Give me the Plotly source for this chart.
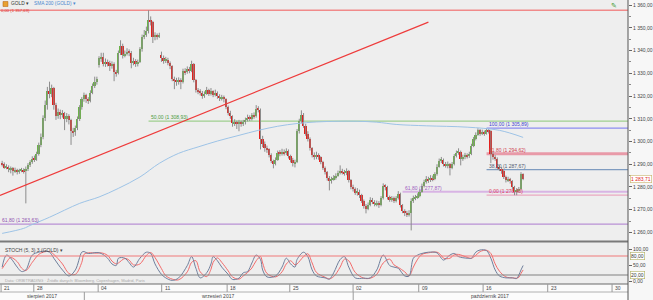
import plotly.graph_objects as go

# ---------------- DATA (GOLD, H4) ----------------
opens = [1290.5,1290.0,1288.5,1289.0,1287.8,1288.2,1287.0,1287.5,1286.8,1287.2,1287.6,1287.0,1287.9,1289.5,1291.0,1292.5,1292.0,1294.5,1298.5,1302.0,
1310.5,1316.0,1322.0,1321.0,1323.5,1316.0,1311.0,1313.0,1311.5,1312.5,1310.0,1311.0,1309.5,1304.5,1304.0,1306.0,1310.0,1315.0,1318.5,1320.5,
1318.5,1318.0,1321.5,1324.5,1326.0,1333.5,1336.5,1337.0,1334.0,1335.0,1334.5,1333.0,1334.0,1330.5,1330.0,1339.0,1342.0,1338.0,1338.5,1339.5,
1339.0,1334.5,1335.5,1334.0,1335.0,1340.5,1346.0,1347.0,1348.5,1353.5,1352.5,1346.0,1346.5,1346.0,1338.0,1336.5,1335.5,1336.0,1334.5,1333.0,
1327.5,1327.0,1326.0,1327.0,1326.0,1331.0,1330.5,1332.0,1331.0,1334.0,1327.0,1322.5,1322.0,1321.5,1320.0,1321.0,1322.5,1321.0,1322.0,1320.5,
1321.5,1320.0,1319.0,1319.5,1318.5,1315.0,1312.5,1311.0,1308.0,1308.5,1307.5,1308.5,1307.8,1308.5,1309.5,1310.5,1310.0,1311.5,1311.0,1314.5,
1314.0,1301.0,1299.0,1297.0,1296.5,1294.0,1291.5,1290.0,1292.0,1295.0,1294.5,1295.5,1294.8,1296.0,1293.5,1292.0,1290.5,1291.0,1304.5,1309.0,
1311.5,1307.0,1303.5,1301.0,1297.0,1294.0,1293.0,1294.0,1293.0,1291.0,1288.5,1286.5,1284.0,1282.5,1283.5,1284.0,1285.0,1286.0,1287.0,1286.5,
1286.0,1287.0,1283.0,1280.0,1279.0,1277.5,1278.0,1276.5,1274.0,1271.5,1270.5,1272.0,1274.5,1273.5,1272.5,1273.0,1272.0,1275.0,1280.5,1280.0,
1275.5,1274.5,1275.0,1274.0,1275.0,1277.0,1272.0,1269.5,1268.5,1268.0,1268.5,1274.0,1275.0,1275.5,1276.0,1278.0,1280.5,1282.0,1283.5,1283.0,
1284.0,1283.5,1285.5,1289.0,1291.5,1292.0,1290.0,1289.5,1290.0,1288.5,1290.0,1293.5,1295.0,1295.5,1292.5,1293.0,1294.0,1293.5,1294.5,1298.0,
1301.0,1303.0,1305.0,1303.5,1304.0,1303.5,1305.0,1304.5,1294.5,1293.0,1292.5,1288.5,1288.0,1287.0,1284.5,1283.0,1283.5,1282.5,1280.0,1278.0,
1278.5,1279.0,1285.5]
closes = [1290.0,1288.5,1289.0,1287.8,1288.2,1287.0,1287.5,1286.8,1287.2,1287.6,1287.0,1287.9,1289.5,1291.0,1292.5,1292.0,1294.5,1298.5,1302.0,1310.5,
1316.0,1322.0,1321.0,1323.5,1316.0,1311.0,1313.0,1311.5,1312.5,1310.0,1311.0,1309.5,1304.5,1304.0,1306.0,1310.0,1315.0,1318.5,1320.5,1318.5,
1318.0,1321.5,1324.5,1326.0,1327.5,1336.5,1337.0,1334.0,1335.0,1334.5,1333.0,1334.0,1330.5,1330.0,1339.0,1342.0,1338.0,1338.5,1339.5,1339.0,
1334.5,1335.5,1334.0,1335.0,1340.5,1346.0,1347.0,1348.5,1353.5,1352.5,1346.0,1346.5,1346.0,1346.8,1336.5,1335.5,1336.0,1334.5,1333.0,1327.5,
1327.0,1326.0,1327.0,1326.0,1331.0,1330.5,1332.0,1331.0,1334.0,1327.0,1322.5,1322.0,1321.5,1320.0,1321.0,1322.5,1321.0,1322.0,1320.5,1321.5,
1320.0,1319.0,1319.5,1318.5,1315.0,1312.5,1311.0,1308.0,1308.5,1307.5,1308.5,1307.8,1308.5,1309.5,1310.5,1310.0,1311.5,1311.0,1314.5,1314.0,
1301.0,1299.0,1297.0,1296.5,1294.0,1291.5,1290.0,1292.0,1295.0,1294.5,1295.5,1294.8,1296.0,1293.5,1292.0,1290.5,1291.0,1304.5,1309.0,1311.5,
1307.0,1303.5,1301.0,1297.0,1294.0,1293.0,1294.0,1293.0,1291.0,1288.5,1286.5,1284.0,1282.5,1283.5,1284.0,1285.0,1286.0,1287.0,1286.5,1286.0,
1287.0,1283.0,1280.0,1279.0,1277.5,1278.0,1276.5,1274.0,1271.5,1270.5,1272.0,1274.5,1273.5,1272.5,1273.0,1272.0,1275.0,1280.5,1280.0,1275.5,
1274.5,1275.0,1274.0,1275.0,1277.0,1272.0,1269.5,1268.5,1268.0,1268.5,1274.0,1275.0,1275.5,1276.0,1278.0,1280.5,1282.0,1283.5,1283.0,1284.0,
1283.5,1285.5,1289.0,1291.5,1292.0,1290.0,1289.5,1290.0,1288.5,1290.0,1293.5,1295.0,1295.5,1292.5,1293.0,1294.0,1293.5,1294.5,1298.0,1301.0,
1303.0,1305.0,1303.5,1304.0,1303.5,1305.0,1304.5,1294.5,1293.0,1292.5,1288.5,1288.0,1287.0,1284.5,1283.0,1283.5,1282.5,1280.0,1278.0,1278.5,
1279.0,1285.5,1283.71]
highs = [1291.5,1290.8,1290.0,1289.5,1289.0,1288.8,1288.5,1288.0,1288.0,1288.4,1288.2,1289.0,1290.5,1291.8,1293.5,1293.8,1295.5,1299.5,1303.5,1311.5,
1318.0,1324.0,1326.3,1325.0,1324.0,1317.0,1314.5,1314.0,1313.8,1313.0,1312.5,1312.0,1310.0,1306.0,1307.0,1311.0,1316.0,1319.5,1321.5,1321.0,
1319.5,1322.5,1325.5,1328.5,1328.5,1337.5,1339.0,1339.0,1336.5,1336.0,1335.5,1335.2,1334.8,1331.5,1340.0,1344.5,1343.0,1340.0,1341.0,1340.5,
1339.8,1336.8,1336.2,1336.0,1341.5,1347.0,1349.0,1350.5,1357.7,1355.0,1353.0,1348.0,1347.5,1347.8,1339.5,1337.8,1337.2,1336.8,1335.2,1333.5,
1328.5,1328.0,1328.2,1327.8,1332.0,1332.2,1333.0,1332.8,1335.5,1334.5,1327.5,1323.5,1323.0,1322.2,1322.0,1324.0,1323.2,1323.5,1322.5,1322.8,
1322.0,1320.8,1320.5,1320.2,1319.0,1315.8,1313.5,1311.5,1309.8,1309.2,1309.5,1309.2,1309.5,1310.5,1311.8,1311.5,1312.5,1312.8,1316.0,1315.5,
1314.5,1302.5,1300.0,1298.2,1297.0,1294.8,1292.0,1293.0,1296.0,1296.2,1296.8,1296.5,1297.0,1296.5,1294.2,1292.8,1292.0,1305.5,1310.0,1313.7,
1312.5,1307.8,1304.5,1301.8,1297.5,1295.2,1295.5,1294.8,1293.5,1291.5,1289.0,1287.0,1284.8,1284.5,1285.2,1286.0,1287.2,1289.5,1288.0,1287.5,
1288.2,1287.5,1283.5,1281.0,1279.8,1279.5,1278.8,1277.0,1274.5,1272.5,1273.2,1275.5,1275.2,1274.2,1274.0,1273.8,1276.0,1281.6,1281.2,1280.5,
1276.2,1276.0,1275.8,1276.0,1278.2,1277.5,1272.5,1270.2,1269.5,1269.8,1275.0,1276.2,1276.5,1277.2,1279.0,1281.5,1283.2,1284.8,1284.5,1285.2,
1285.0,1286.5,1290.0,1292.5,1293.2,1292.5,1291.0,1291.2,1290.5,1291.0,1294.5,1296.0,1297.0,1296.0,1294.2,1295.0,1294.8,1295.5,1299.0,1302.0,
1304.0,1305.8,1305.5,1305.2,1304.8,1305.9,1305.5,1305.0,1295.5,1294.0,1293.0,1289.5,1288.8,1287.5,1285.0,1284.5,1284.0,1283.0,1280.5,1279.5,
1280.0,1286.5,1286.0]
lows = [1289.0,1288.0,1287.8,1286.5,1286.0,1285.0,1286.2,1285.5,1285.8,1286.5,1285.9,1272.8,1287.0,1288.8,1290.2,1291.0,1291.5,1293.8,1297.5,1301.0,
1309.0,1314.0,1319.0,1319.5,1314.0,1309.5,1310.0,1309.8,1310.5,1305.0,1308.5,1307.5,1298.5,1302.0,1302.5,1305.0,1309.0,1314.0,1317.5,1317.0,
1316.5,1317.2,1320.8,1323.5,1325.0,1332.5,1335.0,1333.0,1332.8,1333.0,1331.0,1332.0,1326.5,1328.5,1329.5,1338.0,1336.5,1337.0,1337.8,1337.5,
1332.2,1333.5,1332.8,1333.0,1334.5,1339.5,1345.0,1346.0,1347.5,1351.0,1343.3,1344.5,1344.8,1345.5,1335.0,1334.2,1334.5,1333.5,1331.8,1326.5,
1323.0,1324.5,1325.0,1323.0,1325.5,1329.2,1329.8,1330.0,1330.5,1326.0,1321.5,1320.8,1320.2,1318.8,1319.2,1320.5,1320.0,1320.2,1319.5,1319.8,
1318.8,1317.8,1318.0,1317.2,1314.2,1311.5,1310.0,1306.5,1306.8,1305.5,1304.5,1306.5,1306.8,1307.5,1308.8,1309.0,1309.2,1310.0,1310.5,1312.8,
1296.5,1297.5,1295.5,1295.0,1293.0,1290.5,1288.2,1289.5,1291.5,1293.5,1293.8,1293.8,1294.0,1292.5,1290.8,1289.0,1288.6,1290.5,1303.5,1308.0,
1306.0,1302.5,1300.0,1296.0,1293.0,1292.0,1292.2,1292.0,1290.0,1287.5,1285.5,1282.8,1278.5,1281.5,1282.8,1283.2,1284.5,1285.5,1285.5,1285.0,
1285.2,1282.0,1279.0,1278.0,1276.5,1276.2,1275.2,1273.0,1270.5,1268.4,1269.8,1271.5,1272.5,1271.5,1271.5,1270.8,1271.5,1274.5,1278.5,1274.5,
1273.5,1273.5,1273.0,1273.2,1274.5,1271.0,1268.5,1267.2,1266.8,1267.0,1260.9,1273.0,1274.2,1274.8,1275.5,1277.5,1279.8,1281.5,1281.8,1282.2,
1282.5,1283.0,1285.0,1288.5,1290.5,1289.0,1288.5,1288.2,1285.1,1287.8,1289.5,1293.0,1294.2,1289.5,1291.5,1292.2,1292.5,1292.8,1294.0,1297.5,
1300.5,1302.5,1302.5,1302.8,1302.5,1303.0,1303.5,1290.5,1292.0,1291.5,1287.5,1287.0,1285.8,1283.5,1282.0,1282.2,1281.5,1279.0,1276.4,1276.4,
1277.5,1278.5,1283.0]

# SMA 200 (read at selected candles)
sma_idx = [0, 10, 13, 22, 36, 45, 54, 64, 73, 82, 91, 100, 110, 119, 128, 137, 146, 156, 165, 174, 183, 197, 216, 231, 242]
sma_val = [1259.6, 1261.8, 1263.1, 1266.7, 1272.8, 1275.6, 1279.4, 1284.4, 1290.4, 1294.8, 1297.6, 1300.2, 1302.7, 1304.9,
           1306.7, 1307.9, 1308.6, 1308.9, 1308.9, 1308.5, 1307.5, 1306.9, 1306.3, 1304.9, 1301.8]

# Stochastic (5,3,3)
st_idx = [0,2,4,7,9,11,14,17,19,22,24,28,31,34,37,38,40,44,46,49,51,53,54,57,59,61,64,67,69,71,74,76,79,82,86,88,90,92,95,97,
          98,100,102,105,107,110,112,114,116,118,120,121,123,127,130,132,134,136,137,140,142,144,146,150,152,154,157,159,161,164,
          168,171,174,177,180,182,184,187,189,191,193,195,198,202,204,205,208,210,212,216,218,220,222,225,227,229,231,234,237,239,240,241,242]
st_k = [45,83,73,45,31,36,83,92,95,92,73,36,17,36,92,94,88,91,88,73,55,50,73,73,59,45,73,92,88,55,22,11,3,11,50,78,41,11,27,55,
        78,65,45,22,6,10,27,31,58,83,69,36,14,17,45,73,55,45,69,92,78,36,17,11,7,27,69,78,45,11,
        10,11,36,83,50,45,41,17,17,73,83,88,92,90,73,67,83,88,78,73,73,92,99,97,73,36,17,11,11,9,20,36,50]
st_d = [40,60,75,62,42,34,60,85,92,94,85,55,25,22,60,85,90,89,90,82,64,55,58,72,67,52,55,82,91,75,40,18,7,5,30,60,65,30,15,38,
        60,74,60,33,14,7,17,28,42,65,78,58,25,14,30,55,65,52,55,78,87,58,28,13,8,15,45,70,65,28,
        10,10,22,58,70,52,44,30,17,45,70,85,90,92,82,73,73,84,85,76,73,82,94,98,88,55,32,14,11,10,13,25,36]

# Drawing-tool data
trend_idx = [-1, 198]
trend_price = [1276.3, 1352.5]
fib_price = [1357.69, 1308.93, 1305.89, 1294.62, 1287.67, 1276.40, 1277.87, 1263.63]
fib_start = [-1, 68, 225, 225, 225, 225, 186, -1]
fib_label = ["0,00 (1 357,69)", "50,00 (1 308,93)", "100,00 (1 305,89)", "61,80 (1 294,62)",
             "38,20 (1 287,67)", "0,00 (1 276,40)", "61,80 (1 277,87)", "61,80 (1 263,63)"]
fib_color = ["#f08a8a", "#9fcf8f", "#8c8cf0", "#e89aa8", "#7f9cc0", "#eaa8c0", "#d8b4e4", "#b890d4"]
fib_text = ["#e03030", "#4a9a3a", "#4040d0", "#d04050", "#505a70", "#e04060", "#a060c0", "#9050b0"]
fib_width = [1.5, 1.2, 1.2, 3, 1.2, 1.2, 2, 1.2]

price_ticks = [1260, 1270, 1280, 1290, 1300, 1310, 1320, 1330, 1340, 1350, 1360]
date_ticks = ["21", "28", "04", "11", "18", "25", "02", "09", "16", "23", "30"]
date_tick_idx = [-0.5, 14.7, 44.6, 74.1, 104.5, 133.6, 163.0, 193.5, 223.4, 253.4, 283.3]
months = ["sierpień 2017", "wrzesień 2017", "październik 2017"]
last_price = 1283.71

# ---------------- FIGURE ----------------
W, H = 653, 300
PLOT_W = 633
XMIN, XMAX = -1, PLOT_W / 2.17 - 1
GREEN, RED = "#6cb24a", "#e3201c"

def px_x(px):
    return px / PLOT_W

def px_y(py):
    return 1 - py / H

def fmt(v):
    s = f"{v:,.2f}"
    return s.replace(",", " ").replace(".", ",")

N = len(closes)
idx = list(range(N))
fig = go.Figure()

# wicks
wx, wy = [], []
for i in range(N):
    wx += [i, i, None]
    wy += [lows[i], highs[i], None]
fig.add_trace(go.Scatter(x=wx, y=wy, mode="lines", line=dict(color="#8c8c8c", width=1),
                         hoverinfo="skip", showlegend=False, xaxis="x", yaxis="y"))
# bodies
base = [min(o, c) for o, c in zip(opens, closes)]
hgt = [max(abs(c - o), 0.4) for o, c in zip(opens, closes)]
cols = [GREEN if c >= o else RED for o, c in zip(opens, closes)]
fig.add_trace(go.Bar(x=idx, y=hgt, base=base, width=0.82, marker=dict(color=cols, line=dict(width=0)),
                     showlegend=False, xaxis="x", yaxis="y", hoverinfo="skip"))
# SMA
fig.add_trace(go.Scatter(x=sma_idx, y=sma_val, mode="lines", line=dict(color="#9dc3e6", width=1, shape="spline"),
                         showlegend=False, xaxis="x", yaxis="y"))
# trend line
fig.add_trace(go.Scatter(x=trend_idx, y=trend_price, mode="lines", line=dict(color="#ee3b3b", width=1.2),
                         showlegend=False, xaxis="x", yaxis="y"))
# stochastic
fig.add_trace(go.Scatter(x=st_idx, y=st_d, mode="lines", line=dict(color="#f36b6b", width=1, shape="spline"),
                         showlegend=False, xaxis="x2", yaxis="y2"))
fig.add_trace(go.Scatter(x=st_idx, y=st_k, mode="lines", line=dict(color="#6f7f9c", width=1, shape="spline"),
                         showlegend=False, xaxis="x2", yaxis="y2"))

shapes = []
annos = []
# fib lines
for p, s, c, w in zip(fib_price, fib_start, fib_color, fib_width):
    shapes.append(dict(type="line", xref="x", yref="y", x0=s, x1=XMAX, y0=p, y1=p,
                       line=dict(color=c, width=w), layer="below"))
for k, (p, s, t, tc) in enumerate(zip(fib_price, fib_start, fib_label, fib_text)):
    if k == 0:
        annos.append(dict(x=px_x(0.5), y=px_y(6.6), xref="paper", yref="paper", text=t, showarrow=False,
                          xanchor="left", yanchor="top", borderpad=0, font=dict(size=4.2, color=tc)))
    else:
        annos.append(dict(x=max(s, XMIN), y=p, xref="x", yref="y", text=t, showarrow=False,
                          xanchor="left", yanchor="bottom", font=dict(size=5, color=tc), yshift=-1))
# stoch reference lines
shapes.append(dict(type="line", xref="x2", yref="y2", x0=XMIN, x1=XMAX, y0=80, y1=80, line=dict(color="#f07878", width=1)))
shapes.append(dict(type="line", xref="x2", yref="y2", x0=XMIN, x1=XMAX, y0=20, y1=20, line=dict(color="#808080", width=1)))

# panel separators & bottom rows
shapes.append(dict(type="rect", xref="paper", yref="paper", x0=0, x1=1, y0=0, y1=px_y(284),
                   fillcolor="#fbfbfb", line=dict(width=0), layer="below"))
for py, c, w in [(241.5, "#7a7a7a", 2), (284, "#6a6a6a", 1), (292, "#b0b0b0", 1)]:
    shapes.append(dict(type="line", xref="paper", yref="paper", x0=0, x1=1, y0=px_y(py), y1=px_y(py),
                       line=dict(color=c, width=w)))
shapes.append(dict(type="line", xref="paper", yref="paper", x0=1, x1=1, y0=0, y1=1,
                   line=dict(color="#555555", width=1)))
# date ticks
for t, xi in zip(date_ticks, date_tick_idx):
    shapes.append(dict(type="line", xref="x2", yref="paper", x0=xi, x1=xi, y0=px_y(292), y1=px_y(284),
                       line=dict(color="#9a9a9a", width=1)))
    annos.append(dict(x=xi, y=px_y(288), xref="x2", yref="paper", text=t, showarrow=False,
                      xanchor="left", yanchor="middle", xshift=1, font=dict(size=5, color="#444")))
# month labels + dividers
for px in [85, 356]:
    shapes.append(dict(type="line", xref="paper", yref="paper", x0=px_x(px), x1=px_x(px), y0=0, y1=px_y(292),
                       line=dict(color="#9a9a9a", width=1)))
for m, px in zip(months, [42, 220, 494]):
    annos.append(dict(x=px_x(px), y=px_y(296), xref="paper", yref="paper", text=m, showarrow=False,
                      xanchor="center", yanchor="middle", font=dict(size=5, color="#444")))

# header
shapes.append(dict(type="rect", xref="paper", yref="paper", x0=px_x(3), x1=px_x(8), y0=px_y(6.5), y1=px_y(1.5),
                   fillcolor="#e8a030", line=dict(color="#b06010", width=0.5)))
annos.append(dict(x=px_x(10), y=px_y(3.3), xref="paper", yref="paper", text="GOLD ▾", showarrow=False,
                  xanchor="left", yanchor="middle", borderpad=0, font=dict(size=4.8, color="#333")))
annos.append(dict(x=px_x(33), y=px_y(3.3), xref="paper", yref="paper", text="SMA 200 (GOLD) ▾", showarrow=False,
                  xanchor="left", yanchor="middle", borderpad=0, font=dict(size=4.8, color="#4a8ad0")))
annos.append(dict(x=px_x(619), y=px_y(5), xref="paper", yref="paper", text="✎", showarrow=False,
                  xanchor="center", yanchor="middle", font=dict(size=7, color="#3a9a2a")))
annos.append(dict(x=px_x(3), y=px_y(250), xref="paper", yref="paper", text="STOCH (5, 3) 3 (GOLD) ▾", showarrow=False,
                  xanchor="left", yanchor="middle", font=dict(size=5, color="#444")))
annos.append(dict(x=px_x(3), y=px_y(280), xref="paper", yref="paper",
                  text="Data: ORBITRADING · Źródło danych: Bloomberg, Copenhagen, Madrid, Paris",
                  showarrow=False, xanchor="left", yanchor="middle", font=dict(size=4, color="#a8a8a8")))
# right-axis boxed labels
annos.append(dict(x=1, y=last_price, xref="paper", yref="y", text=fmt(last_price), showarrow=False,
                  xanchor="left", yanchor="middle", xshift=2, font=dict(size=5, color="#e02020"),
                  bgcolor="#ffffff", bordercolor="#c9b36a", borderwidth=0.6, borderpad=0.5))
for v in [80, 20]:
    annos.append(dict(x=1, y=v, xref="paper", yref="y2", text=f"{v},00", showarrow=False,
                      xanchor="left", yanchor="middle", xshift=2, font=dict(size=5, color="#333"),
                      bgcolor="#ffffff", bordercolor="#b0b060", borderwidth=0.6, borderpad=0.5))

fig.update_layout(
    width=W, height=H, margin=dict(l=0, r=20, t=0, b=0),
    paper_bgcolor="#f7f7f7", plot_bgcolor="#eeeeee",
    showlegend=False, hovermode=False, bargap=0,
    font=dict(family="Liberation Sans, Arial, sans-serif", size=5, color="#444"),
    xaxis=dict(domain=[0, 1], range=[XMIN, XMAX], anchor="y", showticklabels=False, showgrid=False,
               zeroline=False, showline=False, ticks=""),
    yaxis=dict(domain=[px_y(241.5), 1], range=[1360 - 236 / 2.27, 1360 + 5 / 2.27], side="right",
               tickvals=price_ticks, ticktext=[fmt(v) for v in price_ticks], ticks="outside", ticklen=3,
               tickcolor="#666", showgrid=False, zeroline=False, showline=False,
               tickfont=dict(size=5, color="#444"),
               minor=dict(ticks="outside", ticklen=2, dtick=5, tickcolor="#888")),
    xaxis2=dict(domain=[0, 1], range=[XMIN, XMAX], anchor="y2", showticklabels=False, showgrid=False,
                zeroline=False, showline=False, ticks=""),
    yaxis2=dict(domain=[px_y(284), px_y(242)], range=[-8.4, 124.2], side="right",
                tickvals=[0, 50, 100], ticktext=["0,00", "50,00", "100,00"], ticks="outside", ticklen=3,
                tickcolor="#666", showgrid=False, zeroline=False, showline=False,
                tickfont=dict(size=5, color="#444")),
    shapes=shapes, annotations=annos,
)

fig.write_html("out.html")
